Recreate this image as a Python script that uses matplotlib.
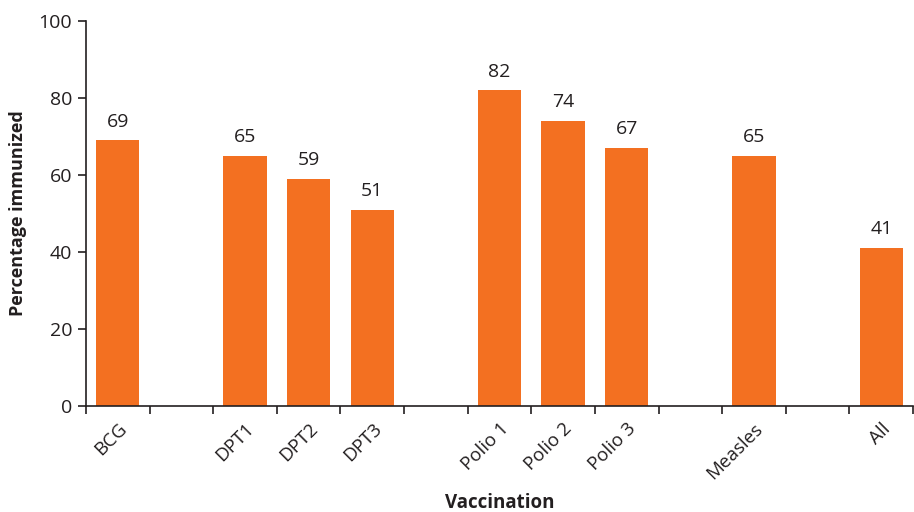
import numpy as np
import matplotlib
matplotlib.use("Agg")
import matplotlib.pyplot as plt

plt.rcParams['font.family'] = ['Open Sans', 'DejaVu Sans']

# Vaccination groups; empty strings are spacer slots between groups
categories = ["BCG", "", "DPT1", "DPT2", "DPT3", "", "Polio 1", "Polio 2",
              "Polio 3", "", "Measles", "", "All"]
immunized = [69, np.nan, 65, 59, 51, np.nan, 82, 74, 67, np.nan, 65, np.nan, 41]
y_ticks = [0, 20, 40, 60, 80, 100]

bar_color = "#F37021"
text_color = "#231F20"

fig = plt.figure(figsize=(9.14, 5.12), dpi=100)
ax = fig.add_axes([0.094, 0.207, 0.905, 0.752])

x = np.arange(len(categories))
vals = np.array(immunized, dtype=float)
mask = ~np.isnan(vals)
bars = ax.bar(x[mask], vals[mask], width=0.68, color=bar_color, zorder=2)

for xi, v in zip(x[mask], vals[mask]):
    ax.annotate(f"{v:.0f}", (xi, v), xytext=(0, 7), textcoords="offset points",
                ha="center", va="bottom", fontsize=14, color=text_color)

ax.set_xlim(-0.5, len(categories) - 0.5)
ax.set_ylim(0, 100)
ax.set_yticks(y_ticks)
ax.tick_params(axis="y", labelsize=14, colors=text_color, length=6, width=1.2,
               direction="out", pad=4)

# Tick marks at slot boundaries, labels at slot centres
ax.set_xticks(np.arange(len(categories) + 1) - 0.5)
ax.set_xticklabels([])
ax.set_xticks(x[mask], minor=True)
ax.set_xticklabels([c for c, m in zip(categories, mask) if m], minor=True,
                   rotation=45, ha="right", rotation_mode="anchor",
                   fontsize=13.5, color=text_color)
ax.tick_params(axis="x", which="major", length=6, width=1.2, colors=text_color,
               direction="out")
ax.tick_params(axis="x", which="minor", length=0, pad=10)

for side in ("top", "right"):
    ax.spines[side].set_visible(False)
for side in ("left", "bottom"):
    ax.spines[side].set_color(text_color)
    ax.spines[side].set_linewidth(1.2)

ax.set_ylabel("Percentage immunized", fontsize=13, fontweight="bold",
              color=text_color, labelpad=8)
ax.set_xlabel("Vaccination", fontsize=13.5, fontweight="bold",
              color=text_color, labelpad=7)

fig.savefig("out.png", dpi=100)
